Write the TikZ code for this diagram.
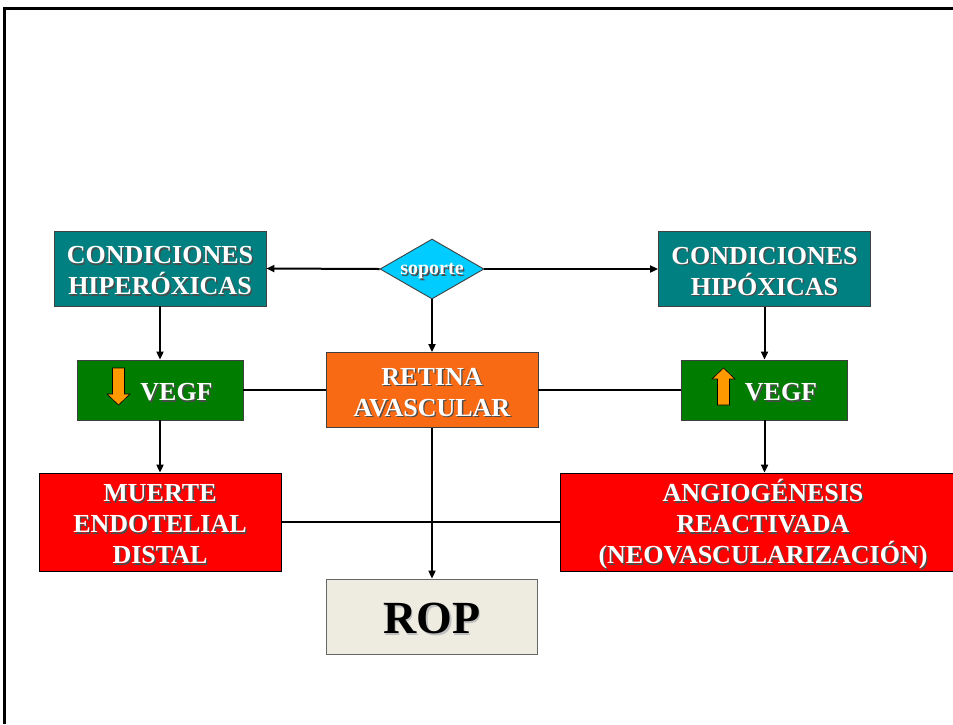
\documentclass[tikz,border=0pt]{standalone}
\usepackage{fontspec}
\setmainfont{Liberation Serif}
\usetikzlibrary{shapes.geometric,arrows.meta,calc}

\definecolor{boxteal}{HTML}{008080}
\definecolor{boxgreen}{HTML}{007C00}
\definecolor{boxorange}{HTML}{F96A14}
\definecolor{boxred}{HTML}{FF0000}
\definecolor{boxcyan}{HTML}{00CCFF}
\definecolor{boxrop}{HTML}{EEECE1}
\definecolor{upcolor}{HTML}{FF9900}

% text with a small drop shadow, set a little lower
\newcommand{\shad}[2][black!70]{\leavevmode\raisebox{-3pt}[\height][\depth]{\rlap{\kern1.4pt\raisebox{-1.4pt}{\color{#1}#2}}#2}}

\tikzset{
  box/.style={draw=black!75, line width=0.9pt, inner sep=0pt, text=white, align=center,
    font=\fontsize{26}{31}\selectfont\bfseries},
  tealbox/.style={box, fill=boxteal, minimum width=212pt, minimum height=75pt},
  greenbox/.style={box, fill=boxgreen, minimum width=166pt, minimum height=60pt},
  orangebox/.style={box, fill=boxorange, minimum width=212pt, minimum height=75pt},
  redbox/.style={box, draw=black, fill=boxred, minimum height=98pt},
  ropbox/.style={box, draw=black!60, fill=boxrop, text=black, minimum width=211pt, minimum height=75pt,
    font=\fontsize{46}{50}\selectfont\bfseries},
  diam/.style={box, diamond, aspect=1.73, fill=boxcyan, minimum width=104pt, minimum height=60pt,
    font=\fontsize{20}{24}\selectfont\bfseries},
  arr/.style={-{Triangle[length=8pt,width=7pt]}, line width=2pt},
  link/.style={line width=2pt},
  vegfdown/.pic={\filldraw[fill=upcolor, draw=black, line width=0.6pt]
    (-6,-18.5) -- (6,-18.5) -- (6,7.5) -- (11.5,7.5) -- (0,18.5) -- (-11.5,7.5) -- (-6,7.5) -- cycle;},
  vegfup/.pic={\filldraw[fill=upcolor, draw=black, line width=0.6pt]
    (-6,18.5) -- (6,18.5) -- (6,-7.5) -- (11.5,-7.5) -- (0,-18.5) -- (-11.5,-7.5) -- (-6,-7.5) -- cycle;}
}

\begin{document}
\begin{tikzpicture}[x=1pt,y=-1pt]
  \useasboundingbox (0,0) rectangle (953,724);
  \fill[white] (0,0) rectangle (953,724);
  \draw[line width=3pt] (4.5,724) -- (4.5,8.5) -- (953,8.5);

  \node[tealbox] (hiper) at (160,268.5) {\shad{CONDICIONES}\\\shad{HIPERÓXICAS}};
  \node[diam] (sop) at (432,269) {\shad{soporte}};
  \node[tealbox] (hipo) at (764.5,269) {\shad{CONDICIONES}\\\shad{HIPÓXICAS}};

  \node[greenbox] (vegfL) at (160,390) {\hspace*{33pt}\shad{VEGF}};
  \node[orangebox] (ret) at (432,390) {\shad{RETINA}\\\shad{AVASCULAR}};
  \node[greenbox] (vegfR) at (764.5,390) {\hspace*{33pt}\shad{VEGF}};
  \pic at ($(vegfL.center)+(-41.5,-3.5)$) {vegfdown};
  \pic at ($(vegfR.center)+(-41,-3.5)$) {vegfup};

  \node[redbox, minimum width=242pt] (muerte) at (160,522) {\shad{MUERTE}\\\shad{ENDOTELIAL}\\\shad{DISTAL}};
  \node[redbox, minimum width=406pt] (angio) at (763,522)
    {\shad{ANGIOGÉNESIS}\\\shad{REACTIVADA}\\\shad{(NEOVASCULARIZACIÓN)}};
  \node[ropbox] (rop) at (432,616.5) {\shad[black!25]{ROP}};

  \draw[arr] (sop.west) -- (hiper.east);
  \draw[arr] (sop.east) -- (hipo.west);
  \draw[arr] (sop.south) -- (ret.north);
  \draw[arr] (hiper.south) -- (vegfL.north);
  \draw[arr] (hipo.south) -- (vegfR.north);
  \draw[link] (vegfL.east) -- (ret.west);
  \draw[link] (ret.east) -- (vegfR.west);
  \draw[arr] (vegfL.south) -- (muerte.north);
  \draw[arr] (vegfR.south) -- (vegfR.south |- angio.north);
  \draw[link] (muerte.east) -- (angio.west);
  \draw[arr] (ret.south) -- (rop.north);
\end{tikzpicture}
\end{document}
